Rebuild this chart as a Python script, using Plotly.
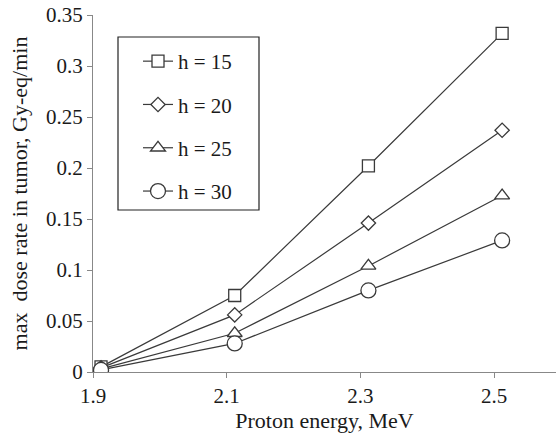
import plotly.graph_objects as go

energy = [1.912, 2.112, 2.312, 2.512]
h15 = [0.005, 0.075, 0.202, 0.332]
h20 = [0.004, 0.056, 0.146, 0.237]
h25 = [0.003, 0.038, 0.104, 0.173]
h30 = [0.002, 0.028, 0.080, 0.129]
labels = ["h = 15", "h = 20", "h = 25", "h = 30"]
symbols = ["square", "diamond", "triangle-up", "circle"]
sizes = [12, 11, 13, 15]
series = [h15, h20, h25, h30]

FONT = "Times New Roman"
L, R, T, B = 93, 0, 15, 65
W, H = 556, 437
PW, PH = W - L - R, H - T - B

def px_x(p):
    return (p - L) / PW

def px_y(p):
    return (H - B - p) / PH

fig = go.Figure()
for i, (lab, ys) in enumerate(zip(labels, series)):
    fig.add_trace(go.Scatter(
        x=energy, y=ys, name=lab, mode="lines+markers",
        legendgroup=str(i),
        line=dict(color="#3a3a3a", width=1.2),
        marker=dict(symbol=symbols[i], size=sizes[i], color="white",
                    line=dict(color="#3a3a3a", width=1.3)),
    ))

# legend frame
fig.add_shape(type="rect", xref="paper", yref="paper",
              x0=px_x(118), x1=px_x(259), y0=px_y(210), y1=px_y(37),
              line=dict(color="#222", width=1.2), fillcolor="white", layer="above")

fig.update_layout(
    width=W, height=H,
    margin=dict(l=L, r=R, t=T, b=B),
    paper_bgcolor="white", plot_bgcolor="white",
    font=dict(family=FONT, size=21, color="#1a1a1a"),
    showlegend=True,
    legend=dict(x=px_x(138), y=px_y(41), xanchor="left", yanchor="top",
                borderwidth=0, bgcolor="rgba(0,0,0,0)",
                tracegroupgap=13, font=dict(size=21, family=FONT),
                itemwidth=30),
    xaxis=dict(range=[1.9, 2.5926], tickvals=[1.9, 2.1, 2.3, 2.5],
               ticktext=["1.9", "2.1", "2.3", "2.5"],
               showgrid=False, zeroline=False, showline=True, linecolor="#888",
               linewidth=1, ticks="outside", tickcolor="#888", ticklen=5,
               title=dict(text="Proton energy, MeV", font=dict(size=22, family=FONT), standoff=2),
               tickfont=dict(size=21, family=FONT)),
    yaxis=dict(range=[0, 0.35], dtick=0.05, tick0=0,
               showgrid=False, zeroline=False, showline=True, linecolor="#888",
               linewidth=1, ticks="outside", tickcolor="#888", ticklen=5,
               title=dict(text="max  dose rate in tumor, Gy-eq/min", font=dict(size=22, family=FONT), standoff=12),
               tickfont=dict(size=21, family=FONT)),
)
fig.write_html("out.html")
